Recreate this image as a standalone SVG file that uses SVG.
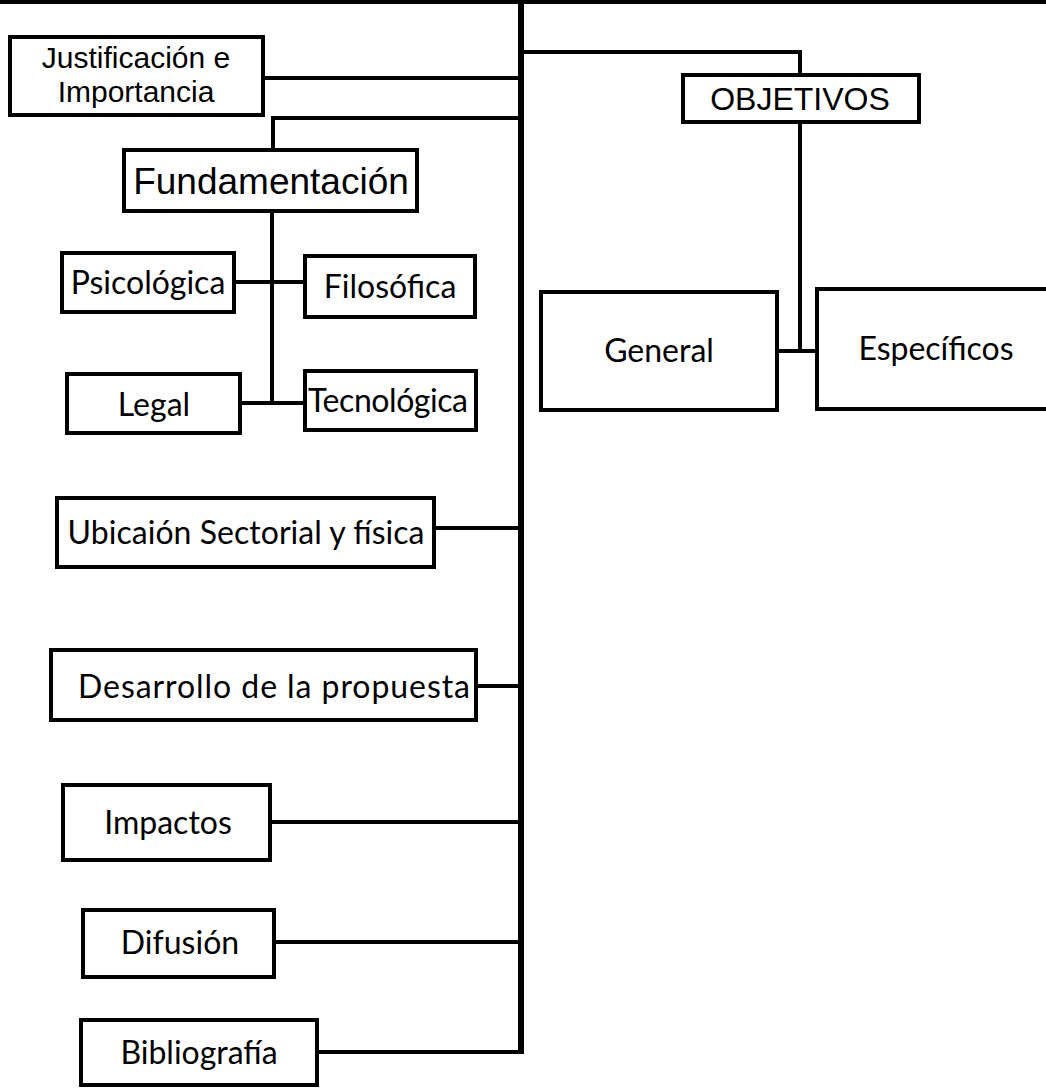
<svg xmlns="http://www.w3.org/2000/svg" width="1046" height="1089" viewBox="0 0 1046 1089">
<style>
.box{fill:#fff;stroke:#000;stroke-width:4}
.ln{fill:none;stroke:#000;stroke-width:4}
.main{fill:none;stroke:#000;stroke-width:6}
.a{font-family:"Liberation Sans",Arial,sans-serif;fill:#000;text-anchor:middle}
.c{font-family:Lato,"Open Sans",sans-serif;fill:#000;text-anchor:middle;font-size:32px}
</style>
<rect width="1046" height="1089" fill="#fff"/>
<g id="connectors">
<line class="ln" x1="0" y1="2" x2="1046" y2="2"/>
<line class="main" x1="521" y1="0" x2="521" y2="1054"/>
<polyline class="ln" points="521,52 800,52 800,75"/>
<line class="ln" x1="263" y1="78" x2="521" y2="78"/>
<polyline class="ln" points="521,118 273,118 273,150"/>
<polyline class="ln" points="272,211 272,403"/>
<line class="ln" x1="234" y1="282" x2="305" y2="282"/>
<line class="ln" x1="240" y1="403" x2="305" y2="403"/>
<line class="ln" x1="434" y1="528" x2="521" y2="528"/>
<line class="ln" x1="476" y1="686" x2="521" y2="686"/>
<line class="ln" x1="270" y1="822" x2="521" y2="822"/>
<line class="ln" x1="274" y1="942" x2="521" y2="942"/>
<line class="ln" x1="317" y1="1052" x2="521" y2="1052"/>
<polyline class="ln" points="800,122 800,351"/>
<line class="ln" x1="777" y1="351" x2="817" y2="351"/>
</g>
<g id="justificacion"><rect class="box" x="10" y="37" width="253" height="78"/><text class="a" font-size="30" x="136" y="68">Justificación e</text><text class="a" font-size="30" x="136" y="102">Importancia</text></g>
<g id="fundamentacion"><rect class="box" x="124" y="150" width="293" height="61"/><text class="a" font-size="37" x="271" y="194">Fundamentación</text></g>
<g id="psicologica"><rect class="box" x="62" y="253" width="172" height="59"/><text class="c" x="148" y="294">Psicológica</text></g>
<g id="filosofica"><rect class="box" x="305" y="256" width="170" height="61"/><text class="c" x="390" y="298">Filosófica</text></g>
<g id="legal"><rect class="box" x="67" y="374" width="173" height="59"/><text class="c" x="154" y="416">Legal</text></g>
<g id="tecnologica"><rect class="box" x="305" y="371" width="171" height="59"/><text class="c" x="388" y="412" textLength="160">Tecnológica</text></g>
<g id="ubicacion"><rect class="box" x="57" y="498" width="377" height="69"/><text class="c" x="246" y="544" textLength="357">Ubicaión Sectorial y física</text></g>
<g id="desarrollo"><rect class="box" x="51" y="650" width="425" height="70"/><text class="c" x="274" y="698" textLength="392">Desarrollo de la propuesta</text></g>
<g id="impactos"><rect class="box" x="63" y="785" width="207" height="75"/><text class="c" x="168" y="834">Impactos</text></g>
<g id="difusion"><rect class="box" x="83" y="910" width="191" height="67"/><text class="c" x="180" y="954">Difusión</text></g>
<g id="bibliografia"><rect class="box" x="81" y="1020" width="236" height="65"/><text class="c" x="199" y="1064">Bibliografía</text></g>
<g id="objetivos"><rect class="box" x="683" y="75" width="236" height="47"/><text class="a" font-size="32" x="800" y="110">OBJETIVOS</text></g>
<g id="general"><rect class="box" x="541" y="292" width="236" height="118"/><text class="c" x="659" y="362">General</text></g>
<g id="especificos"><rect class="box" x="817" y="289" width="250" height="120"/><text class="c" x="936" y="360">Específicos</text></g>
</svg>
